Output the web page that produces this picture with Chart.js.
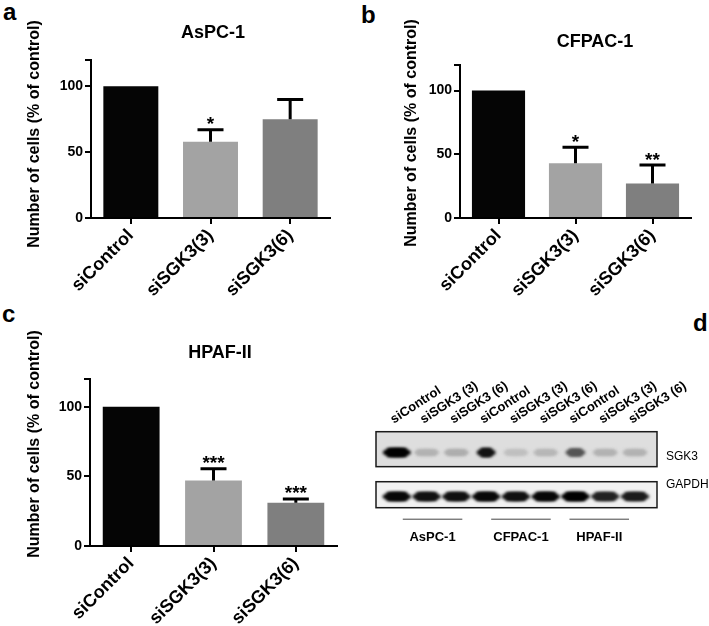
<!DOCTYPE html>
<html><head><meta charset="utf-8">
<script src="https://cdn.jsdelivr.net/npm/chart.js@4.4.1/dist/chart.umd.min.js"></script>
<style>
body{margin:0;background:#fff;width:709px;height:626px;overflow:hidden;position:relative;font-family:"Liberation Sans",Arial,sans-serif;}
.pl{position:absolute;font-weight:bold;font-size:24px;line-height:24px;color:#000;}
canvas{position:absolute;}
</style></head><body>
<div class="pl" style="left:3px;top:0px">a</div>
<div class="pl" style="left:361px;top:3px">b</div>
<div class="pl" style="left:2px;top:302px">c</div>
<div class="pl" style="left:693px;top:311px">d</div>
<canvas id="ca" width="345" height="300" style="left:0;top:0"></canvas>
<canvas id="cb" width="355" height="300" style="left:354px;top:0"></canvas>
<canvas id="cc" width="345" height="326" style="left:0;top:300px"></canvas>
<canvas id="cd" width="349" height="190" style="left:360px;top:370px"></canvas>
<script>
// ---------- data ----------
const categories = ['siControl', 'siSGK3(3)', 'siSGK3(6)'];
const yTicks = [0, 50, 100];
const yMax = 120;
const yTitle = 'Number of cells (% of control)';

const aspcTitle = 'AsPC-1';
const aspcMean = [100, 58, 75];
const aspcErr = [0, 9, 15];
const aspcStars = ['', '*', ''];

const cfpacTitle = 'CFPAC-1';
const cfpacMean = [100, 43, 27];
const cfpacErr = [0, 12.5, 14.5];
const cfpacStars = ['', '*', '**'];

const hpafTitle = 'HPAF-II';
const hpafMean = [100, 47, 31];
const hpafErr = [0, 8.5, 2.8];
const hpafStars = ['', '***', '***'];

const blotLanes = ['siControl', 'siSGK3 (3)', 'siSGK3 (6)', 'siControl', 'siSGK3 (3)', 'siSGK3 (6)', 'siControl', 'siSGK3 (3)', 'siSGK3 (6)'];
const blotGroups = ['AsPC-1', 'CFPAC-1', 'HPAF-II'];
const blotRows = ['SGK3', 'GAPDH'];
const sgk3Signal = [1.0, 0.2, 0.22, 0.92, 0.14, 0.18, 0.62, 0.2, 0.2];
const gapdhSignal = [0.97, 0.93, 0.93, 0.97, 0.93, 0.97, 1.0, 0.85, 0.88];

// ---------- styles ----------
const FONT = '"Liberation Sans", Arial, sans-serif';
const barColors = ['#050505', '#a3a3a3', '#7f7f7f'];

const panelDecor = {
  id: 'panelDecor',
  afterDatasetsDraw(chart, args, o) {
    const ctx = chart.ctx;
    const meta = chart.getDatasetMeta(0);
    const ys = chart.scales.y;
    const vals = chart.data.datasets[0].data;
    ctx.save();
    ctx.strokeStyle = '#000';
    ctx.lineWidth = 3;
    ctx.fillStyle = '#000';
    ctx.font = 'bold 19px ' + FONT;
    ctx.textAlign = 'center';
    ctx.textBaseline = 'alphabetic';
    o.errors.forEach((e, i) => {
      const x = meta.data[i].x;
      let yCap = ys.getPixelForValue(vals[i]);
      if (e) {
        const yb = ys.getPixelForValue(vals[i]);
        yCap = ys.getPixelForValue(vals[i] + e);
        ctx.beginPath();
        ctx.moveTo(x, yb); ctx.lineTo(x, yCap);
        ctx.moveTo(x - 13, yCap); ctx.lineTo(x + 13, yCap);
        ctx.stroke();
      }
      if (o.stars[i]) ctx.fillText(o.stars[i], x, yCap + 0.5);
    });
    ctx.restore();
  },
  afterDraw(chart, args, o) {
    const ctx = chart.ctx;
    const ca = chart.chartArea;
    ctx.save();
    ctx.fillStyle = '#000';
    ctx.textAlign = 'center';
    ctx.textBaseline = 'middle';
    ctx.font = 'bold 18px ' + FONT;
    ctx.fillText(o.title, ca.left + o.titleDx, ca.top + o.titleDy);
    ctx.translate(o.yTitleX, o.yTitleY);
    ctx.rotate(-Math.PI / 2);
    ctx.font = 'bold 16px ' + FONT;
    ctx.fillText(o.yTitle, 0, 0);
    ctx.restore();
  }
};

function barChart(id, title, mean, err, stars, lay) {
  return new Chart(document.getElementById(id), {
    type: 'bar',
    data: {
      labels: categories,
      datasets: [{ data: mean, backgroundColor: barColors, borderWidth: 0,
        barPercentage: 0.69, categoryPercentage: 1.0 }]
    },
    plugins: [panelDecor],
    options: {
      responsive: false, animation: false, devicePixelRatio: 1,
      layout: { padding: { left: 0, right: lay.right, top: lay.top, bottom: 0 } },
      plugins: {
        legend: { display: false }, tooltip: { enabled: false }, title: { display: false },
        panelDecor: { title: title, titleDx: lay.titleDx, titleDy: lay.titleDy,
          yTitle: yTitle, yTitleX: lay.yTitleX, yTitleY: lay.yTitleY, errors: err, stars: stars }
      },
      scales: {
        x: {
          offset: true,
          grid: { offset: false, drawOnChartArea: false, drawTicks: true, tickLength: 6, color: '#000', lineWidth: 2 },
          border: { display: true, color: '#000', width: 2 },
          ticks: { color: '#000', font: { family: FONT, size: 18, weight: 'bold' }, minRotation: 45, maxRotation: 45, autoSkip: false, padding: 1 },
          afterFit: s => { s.height = lay.xh; }
        },
        y: {
          min: 0, max: yMax,
          grid: { drawOnChartArea: false, drawTicks: true, tickLength: 6, color: '#000', lineWidth: 2 },
          border: { display: true, color: '#000', width: 2 },
          afterBuildTicks: s => { s.ticks = yTicks.concat([yMax]).map(v => ({ value: v })); },
          ticks: { color: '#000', font: { family: FONT, size: 14, weight: 'bold' }, padding: 2,
            callback: v => (yTicks.includes(v) ? String(v) : '') },
          afterFit: s => { s.width = lay.yw; }
        }
      }
    }
  });
}

barChart('ca', aspcTitle, aspcMean, aspcErr, aspcStars,
  { right: 15, top: 60, xh: 82, yw: 91, titleDx: 122, titleDy: -27, yTitleX: 35, yTitleY: 134 });
barChart('cb', cfpacTitle, cfpacMean, cfpacErr, cfpacStars,
  { right: 18, top: 65, xh: 82, yw: 106, titleDx: 135, titleDy: -23, yTitleX: 58, yTitleY: 133 });
barChart('cc', hpafTitle, hpafMean, hpafErr, hpafStars,
  { right: 8, top: 79, xh: 80, yw: 90, titleDx: 130, titleDy: -26, yTitleX: 35, yTitleY: 144 });

// ---------- western blot (panel d) ----------
const rowGeom = { SGK3: { top: 1.0, bottom: 0.54, band: 0.726, h: 9, fill: '#dedede', labelDy: 25 },
                  GAPDH: { top: 0.342, bottom: 0.0, band: 0.147, h: 9, fill: '#f1f1f1', labelDy: 53 } };
const sgk3Width = [0.95, 0.85, 0.85, 0.65, 0.85, 0.85, 0.68, 0.85, 0.85];
const groupShift = [0.2, 0.17, -0.2];

const blotPlugin = {
  id: 'blot',
  beforeDatasetsDraw(chart) {
    const ctx = chart.ctx, xs = chart.scales.x, ys = chart.scales.y, ca = chart.chartArea;
    const laneW = xs.getPixelForValue(1) - xs.getPixelForValue(0);
    ctx.save();
    blotRows.forEach(r => {
      const g = rowGeom[r];
      const y0 = ys.getPixelForValue(g.top), y1 = ys.getPixelForValue(g.bottom);
      ctx.fillStyle = g.fill;
      ctx.fillRect(ca.left, y0, ca.right - ca.left, y1 - y0);
    });
    ctx.filter = 'blur(1.6px)';
    const drawBand = (i, sig, g, wf) => {
      const x = xs.getPixelForValue(i);
      const y = ys.getPixelForValue(g.band);
      const lvl = Math.round(222 * (1 - sig));
      ctx.fillStyle = 'rgb(' + lvl + ',' + lvl + ',' + lvl + ')';
      const w = laneW * wf, h = g.h * (0.6 + 0.4 * sig);
      ctx.beginPath();
      ctx.ellipse(x, y, w / 2, h / 2, 0, 0, Math.PI * 2);
      ctx.fill();
      ctx.fillRect(x - w / 2 + h / 2, y - h / 2, w - h, h);
    };
    sgk3Signal.forEach((s, i) => drawBand(i, s, rowGeom.SGK3, sgk3Width[i]));
    gapdhSignal.forEach((s, i) => drawBand(i, s, rowGeom.GAPDH, 0.97));
    ctx.filter = 'none';
    ctx.strokeStyle = '#1a1a1a';
    ctx.lineWidth = 1.5;
    blotRows.forEach(r => {
      const g = rowGeom[r];
      const y0 = ys.getPixelForValue(g.top), y1 = ys.getPixelForValue(g.bottom);
      ctx.strokeRect(ca.left, y0, ca.right - ca.left, y1 - y0);
    });
    ctx.fillStyle = '#000';
    ctx.font = 'bold 13px ' + FONT;
    ctx.textAlign = 'left';
    ctx.textBaseline = 'alphabetic';
    blotLanes.forEach((l, i) => {
      ctx.save();
      ctx.translate(xs.getPixelForValue(i) - 3, ca.top - 8);
      ctx.rotate(-33 * Math.PI / 180);
      ctx.fillText(l, 0, 0);
      ctx.restore();
    });
    ctx.font = '12px ' + FONT;
    ctx.textBaseline = 'middle';
    blotRows.forEach(r => ctx.fillText(r, ca.right + 9, ca.top + rowGeom[r].labelDy));
    ctx.strokeStyle = '#444';
    ctx.lineWidth = 1;
    ctx.font = 'bold 13px ' + FONT;
    ctx.textAlign = 'center';
    blotGroups.forEach((gname, k) => {
      const c = 3 * k + 1 + groupShift[k];
      const xa = xs.getPixelForValue(c - 1), xb = xs.getPixelForValue(c + 1);
      const yl = ca.bottom + 11.5;
      ctx.beginPath(); ctx.moveTo(xa, yl); ctx.lineTo(xb, yl); ctx.stroke();
      ctx.fillText(gname, (xa + xb) / 2, ca.bottom + 29.5);
    });
    ctx.restore();
  }
};

new Chart(document.getElementById('cd'), {
  type: 'scatter',
  data: { datasets: [{ data: sgk3Signal.map((s, i) => ({ x: i, y: rowGeom.SGK3.band })), pointRadius: 0 }] },
  plugins: [blotPlugin],
  options: {
    responsive: false, animation: false, devicePixelRatio: 1,
    layout: { padding: { left: 16, right: 52, top: 61.7, bottom: 52.3 } },
    plugins: { legend: { display: false }, tooltip: { enabled: false } },
    scales: {
      x: { type: 'linear', display: false, min: -0.7, max: 8.74 },
      y: { type: 'linear', display: false, min: 0, max: 1 }
    }
  }
});
</script>
</body></html>
